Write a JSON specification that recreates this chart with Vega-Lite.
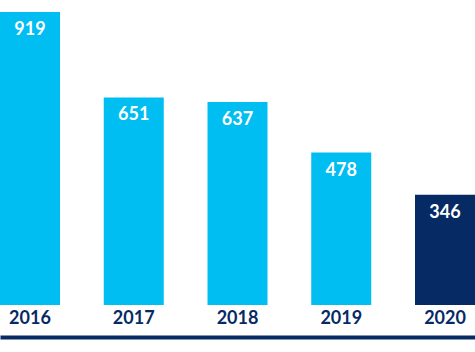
{
  "$schema": "https://vega.github.io/schema/vega-lite/v6.json",
  "width": 475,
  "height": 305,
  "padding": {"left": 0, "top": 0, "right": 0, "bottom": 47},
  "autosize": "none",
  "background": "white",
  "config": {"view": {"stroke": null}},
  "data": {"values": [
    {"year": "2016", "value": 919, "current": "no"},
    {"year": "2017", "value": 651, "current": "no"},
    {"year": "2018", "value": 637, "current": "no"},
    {"year": "2019", "value": 478, "current": "no"},
    {"year": "2020", "value": 346, "current": "yes"}
  ]},
  "encoding": {
    "x": {"field": "year", "type": "ordinal", "sort": null,
      "scale": {"paddingInner": 0.4217, "paddingOuter": 0},
      "axis": {"title": null, "ticks": false, "offset": 32, "domainWidth": 4, "domainColor": "#062a64",
        "labelPadding": -14, "labelBaseline": "alphabetic", "labelAngle": 0,
        "labelFont": "Lato", "labelFontWeight": "bold", "labelFontSize": 18, "labelColor": "#062a64"}},
    "y": {"field": "value", "type": "quantitative", "scale": {"domain": [0, 956.6], "nice": false}, "axis": null}
  },
  "layer": [
    {"mark": {"type": "bar"},
     "encoding": {"color": {"field": "current", "type": "nominal", "scale": {"domain": ["no", "yes"], "range": ["#00bdf2", "#062a64"]}, "legend": null}}},
    {"mark": {"type": "text", "baseline": "alphabetic", "dy": 23, "font": "Lato", "fontWeight": "bold", "fontSize": 18, "color": "white"},
     "encoding": {"text": {"field": "value", "type": "quantitative"}}}
  ]
}
